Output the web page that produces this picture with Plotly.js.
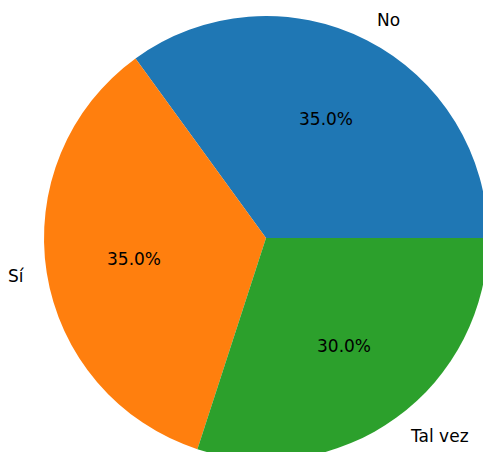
<!DOCTYPE html>
<html>
<head>
<meta charset="utf-8">
<script src="https://cdn.plot.ly/plotly-3.0.1.min.js"></script>
<style>html,body{margin:0;padding:0;overflow:hidden;background:#fff;}</style>
</head>
<body>
<div id="chart"></div>
<script>
const labels = ["No", "Sí", "Tal vez"];
const values = [35, 35, 30];
const colors = ["#1f77b4", "#ff7f0e", "#2ca02c"];

const W = 500, H = 470;
const cx = 266, cy = 238, R = 222;
const fontSize = 17;

const total = values.reduce((a, b) => a + b, 0);
const annotations = [];
let start = 0;
values.forEach((v, i) => {
  const frac = v / total;
  const mid = (start + frac / 2) * 2 * Math.PI;
  start += frac;
  const c = Math.cos(mid), s = Math.sin(mid);
  const lx = cx + 1.1 * R * c, ly = cy - 1.1 * R * s;
  const px = cx + 0.6 * R * c, py = cy - 0.6 * R * s;
  annotations.push({
    xref: "paper", yref: "paper", x: lx / W, y: 1 - ly / H,
    text: labels[i], showarrow: false,
    xanchor: c > 0 ? "left" : "right", yanchor: "middle",
    xshift: c > 0 ? -2 : 2,
    font: {family: "DejaVu Sans", size: fontSize, color: "#000"}
  });
  annotations.push({
    xref: "paper", yref: "paper", x: px / W, y: 1 - py / H,
    text: (frac * 100).toFixed(1) + "%", showarrow: false,
    xanchor: "center", yanchor: "middle",
    font: {family: "DejaVu Sans", size: fontSize, color: "#000"}
  });
});

// Plotly counterclockwise: first slice ends at `rotation` (clockwise from 12 o'clock).
// We want the first slice to start at 3 o'clock going counterclockwise.
const rotation = 90 - 360 * values[0] / total;

const trace = {
  type: "pie",
  labels: labels,
  values: values,
  sort: false,
  direction: "counterclockwise",
  rotation: rotation,
  marker: {colors: colors, line: {width: 0}},
  textinfo: "none",
  hoverinfo: "none",
  showlegend: false,
  domain: {x: [(cx - R) / W, (cx + R) / W], y: [1 - (cy + R) / H, 1 - (cy - R) / H]}
};

Plotly.newPlot("chart", [trace], {
  width: W, height: H,
  margin: {l: 0, r: 0, t: 0, b: 0},
  paper_bgcolor: "#fff",
  showlegend: false,
  annotations: annotations
}, {displayModeBar: false, staticPlot: true});
</script>
</body>
</html>
